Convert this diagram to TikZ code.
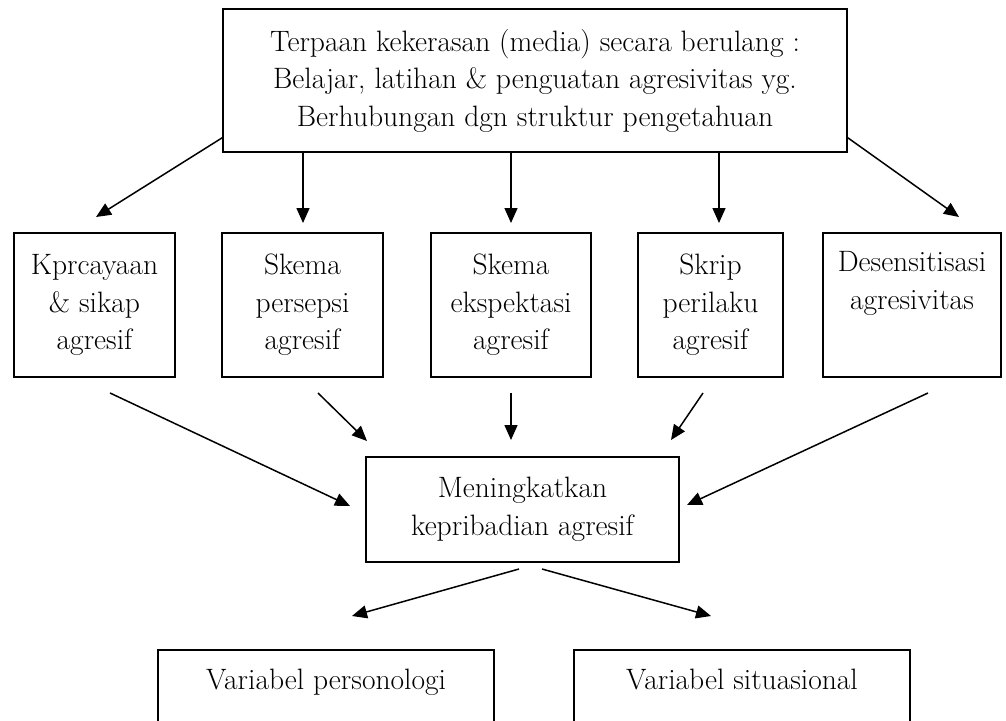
\documentclass[tikz,border=0pt]{standalone}
\usetikzlibrary{arrows.meta}
\begin{document}
\begin{tikzpicture}[x=1pt,y=-1pt,
  box/.style={draw, line width=1.5pt, inner sep=0pt, align=center,
              font=\fontsize{29.5}{37.5}\selectfont},
  arr/.style={-{Triangle[length=15pt,width=13pt]}, line width=1.5pt}]
\useasboundingbox (0,0) rectangle (1006,720);
\clip (0,0) rectangle (1006,720);

% top box
\node[box, minimum width=624, minimum height=143] (top) at (535,80.5)
  {Terpaan kekerasan (media) secara berulang :\\Belajar, latihan \& penguatan agresivitas yg.\\Berhubungan dgn struktur pengetahuan};

% row of boxes
\node[box, minimum width=161, minimum height=144] (b1) at (94.5,305) {Kprcayaan\\\& sikap\\agresif};
\node[box, minimum width=161, minimum height=144] (b2) at (302.5,305) {Skema\\persepsi\\agresif};
\node[box, minimum width=160, minimum height=144] (b3) at (511,305) {Skema\\ekspektasi\\agresif};
\node[box, minimum width=145, minimum height=144] (b4) at (710.5,305) {Skrip\\perilaku\\agresif};
\node[box, minimum width=178, minimum height=144] (b5) at (912,305) {Desensitisasi\\agresivitas\\\strut};

% middle box
\node[box, minimum width=313, minimum height=105] (mid) at (522.5,509.5) {Meningkatkan\\kepribadian agresif};

% bottom boxes (cut off by the picture's lower edge)
\node[box, minimum width=336, anchor=north, text height=40pt, text depth=80pt] (p1) at (326,649) {Variabel personologi};
\node[box, minimum width=336, anchor=north, text height=40pt, text depth=80pt] (p2) at (742,649) {Variabel situasional};

% free arrow ends
\coordinate (a1e) at (96,217);
\coordinate (a2e) at (303,223);
\coordinate (a3e) at (511,223);
\coordinate (a4e) at (719,223);
\coordinate (a5e) at (959,217);

\coordinate (b1s) at (110,393);  \coordinate (b1e) at (350,506);
\coordinate (b2s) at (318,393);  \coordinate (b2e) at (367,441);
\coordinate (b3s) at (511,393);  \coordinate (b3e) at (511,440);
\coordinate (b4s) at (703,393);  \coordinate (b4e) at (671,440);
\coordinate (b5s) at (928,393);  \coordinate (b5e) at (687,505);

\coordinate (c1s) at (519,569);  \coordinate (c1e) at (352,616);
\coordinate (c2s) at (542,569);  \coordinate (c2e) at (711,616);

% arrows from top box
\draw[arr] ([yshift=15pt]top.south west) -- (a1e);
\draw[arr] (top.south -| a2e) -- (a2e);
\draw[arr] (top.south -| a3e) -- (a3e);
\draw[arr] (top.south -| a4e) -- (a4e);
\draw[arr] ([yshift=15pt]top.south east) -- (a5e);

% arrows towards middle box
\draw[arr] (b1s) -- (b1e);
\draw[arr] (b2s) -- (b2e);
\draw[arr] (b3s) -- (b3e);
\draw[arr] (b4s) -- (b4e);
\draw[arr] (b5s) -- (b5e);

% arrows towards bottom boxes
\draw[arr] (c1s) -- (c1e);
\draw[arr] (c2s) -- (c2e);
\end{tikzpicture}
\end{document}
